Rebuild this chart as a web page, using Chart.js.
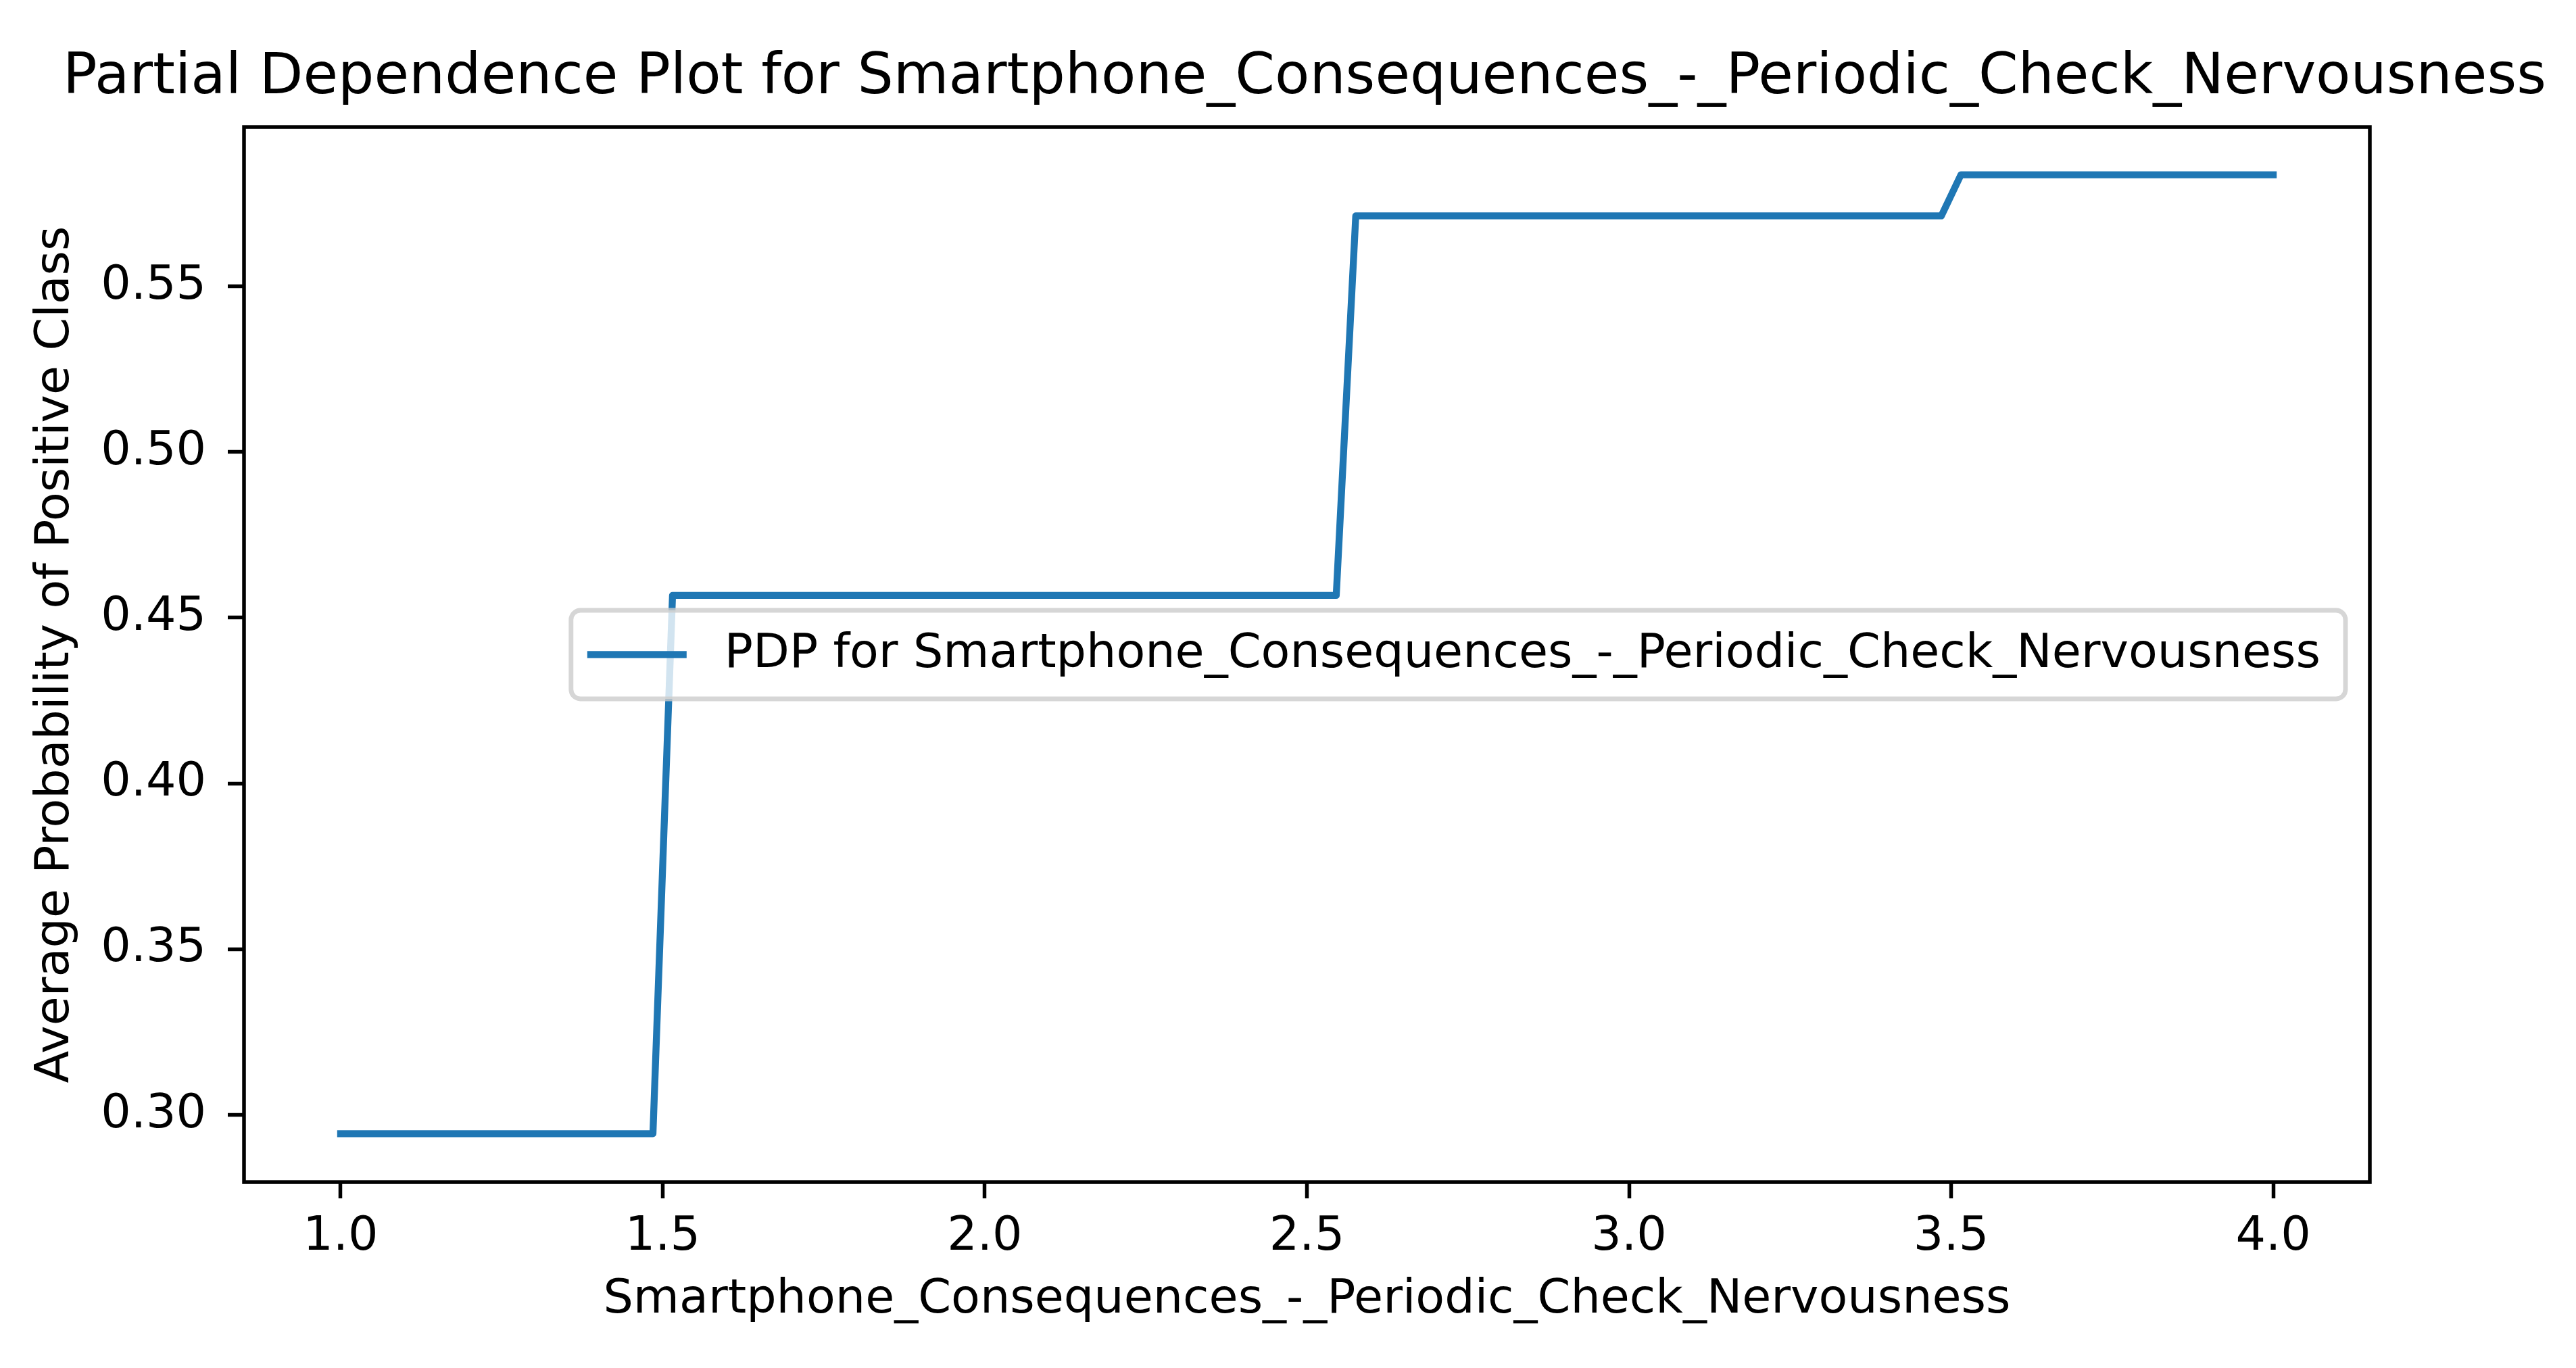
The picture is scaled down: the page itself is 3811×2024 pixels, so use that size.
<!DOCTYPE html>
<html><head><meta charset="utf-8">
<script src="https://cdn.jsdelivr.net/npm/chart.js@4.4.1/dist/chart.umd.min.js"></script>
<style>html,body{margin:0;padding:0;background:#fff;} canvas{display:block;}</style>
</head><body>
<canvas id="c" width="3811" height="2024"></canvas>
<script>
const featureName = 'Smartphone_Consequences_-_Periodic_Check_Nervousness';
const titleText = 'Partial Dependence Plot for ' + featureName;
const xLabel = featureName;
const yLabel = 'Average Probability of Positive Class';
const seriesLabel = 'PDP for ' + featureName;
const gridX = [1.0, 1.4848, 1.5152, 2.5455, 2.5758, 3.4848, 3.5152, 4.0];
const pdpY = [0.2943, 0.2943, 0.4567, 0.4567, 0.5712, 0.5712, 0.5836, 0.5836];
const xTicks = [1.0, 1.5, 2.0, 2.5, 3.0, 3.5, 4.0];
const yTicks = [0.30, 0.35, 0.40, 0.45, 0.50, 0.55];
const xRange = [0.85, 4.15];
const yRange = [0.2797, 0.5980];

const FONT = '"DejaVu Sans", Verdana, sans-serif';
const FS = 70;
const LINE_COLOR = '#1f77b4';
const SPINE = 5.5;

const framePlugin = {
  id: 'frameAndLegend',
  afterDatasetsDraw(chart) {
    const ctx = chart.ctx;
    const a = chart.chartArea;
    ctx.save();
    ctx.strokeStyle = '#000';
    ctx.lineWidth = SPINE;
    ctx.lineJoin = 'miter';
    ctx.strokeRect(a.left, a.top, a.right - a.left, a.bottom - a.top);
    const ds = chart.data.datasets[0];
    ctx.font = FS + 'px ' + FONT;
    const tw = ctx.measureText(ds.label).width;
    const boxW = tw + 227 + 37;
    const boxH = 131;
    const right = a.right - 36;
    const left = right - boxW;
    const cy = (a.top + a.bottom) / 2;
    const top = cy - boxH / 2;
    ctx.beginPath();
    ctx.roundRect(left, top, boxW, boxH, 14);
    ctx.fillStyle = 'rgba(255,255,255,0.8)';
    ctx.fill();
    ctx.lineWidth = 6.9;
    ctx.strokeStyle = 'rgba(204,204,204,0.8)';
    ctx.stroke();
    ctx.beginPath();
    ctx.moveTo(left + 24, cy);
    ctx.lineTo(left + 171, cy);
    ctx.lineWidth = ds.borderWidth;
    ctx.strokeStyle = ds.borderColor;
    ctx.lineCap = 'butt';
    ctx.stroke();
    ctx.fillStyle = '#000';
    ctx.textAlign = 'left';
    ctx.textBaseline = 'middle';
    ctx.fillText(ds.label, left + 227, cy);
    ctx.restore();
  }
};

new Chart(document.getElementById('c'), {
  type: 'line',
  data: {
    datasets: [{
      label: seriesLabel,
      data: gridX.map((x, i) => ({x: x, y: pdpY[i]})),
      borderColor: LINE_COLOR,
      backgroundColor: LINE_COLOR,
      borderWidth: 10.3,
      borderJoinStyle: 'round',
      borderCapStyle: 'square',
      pointRadius: 0,
      tension: 0,
      fill: false
    }]
  },
  options: {
    responsive: false,
    animation: false,
    devicePixelRatio: 1,
    layout: {padding: {left: 49, right: 0, top: 0, bottom: 0}},
    plugins: {
      legend: {display: false},
      tooltip: {enabled: false},
      title: {
        display: true,
        text: titleText,
        fullSize: true,
        color: '#000',
        font: {family: FONT, size: 84, weight: 'normal', lineHeight: 1.2},
        padding: {top: 65.6, bottom: 21.6}
      }
    },
    scales: {
      x: {
        type: 'linear',
        min: xRange[0], max: xRange[1],
        afterBuildTicks: s => { s.ticks = xTicks.map(v => ({value: v})); },
        afterFit: s => { s.height = 275; },
        border: {display: false},
        grid: {display: true, drawOnChartArea: false, drawTicks: true, tickLength: 24, tickWidth: SPINE, tickColor: '#000'},
        ticks: {
          color: '#000', padding: 16, maxRotation: 0, autoSkip: false,
          font: {family: FONT, size: FS},
          callback: v => Number(v).toFixed(1)
        },
        title: {
          display: true, text: xLabel, color: '#000',
          font: {family: FONT, size: FS, lineHeight: 1.2},
          padding: {top: 0, bottom: 58.2}
        }
      },
      y: {
        type: 'linear',
        position: 'left',
        min: yRange[0], max: yRange[1],
        afterBuildTicks: s => { s.ticks = yTicks.map(v => ({value: v})); },
        afterFit: s => { s.width = 312; },
        border: {display: false},
        grid: {display: true, drawOnChartArea: false, drawTicks: true, tickLength: 24, tickWidth: SPINE, tickColor: '#000'},
        ticks: {
          color: '#000', padding: 32, autoSkip: false,
          font: {family: FONT, size: FS},
          callback: v => Number(v).toFixed(2)
        },
        title: {
          display: true, text: yLabel, color: '#000',
          font: {family: FONT, size: FS, lineHeight: 0.95},
          padding: {top: 0.55, bottom: 0}
        }
      },
      yRightSpace: {
        type: 'linear',
        position: 'right',
        min: 0, max: 1,
        afterFit: s => { s.width = 305; },
        border: {display: false},
        grid: {display: false, drawTicks: false},
        ticks: {display: false}
      }
    }
  },
  plugins: [framePlugin]
});
</script>
</body></html>
